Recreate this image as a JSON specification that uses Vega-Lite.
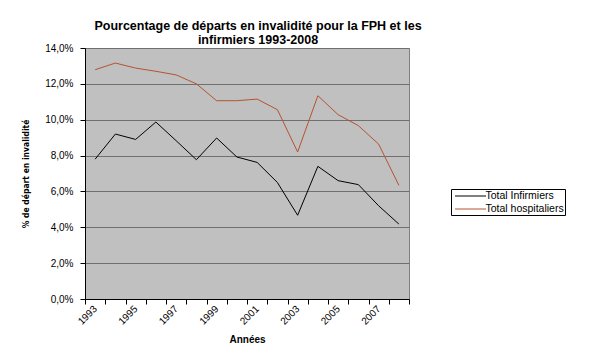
{
  "$schema": "https://vega.github.io/schema/vega-lite/v6.json",
  "autosize": "none",
  "width": 324,
  "height": 251,
  "padding": {"left": 85, "top": 48, "right": 186, "bottom": 55},
  "background": "white",
  "config": {
    "locale": {"number": {"decimal": ",", "thousands": " ", "grouping": [3], "currency": ["", " €"]}},
    "font": "Liberation Sans",
    "view": {"fill": "#c0c0c0", "stroke": "#808080", "strokeWidth": 1},
    "axis": {"labelFont": "Liberation Sans", "labelColor": "#000000", "titleColor": "#000000", "domainColor": "#000000", "tickColor": "#000000"}
  },
  "title": {
    "text": ["Pourcentage de départs en invalidité pour la FPH et les", "infirmiers 1993-2008"],
    "fontSize": 12.5,
    "font": "Liberation Sans",
    "fontWeight": "bold",
    "anchor": "middle",
    "dx": 11,
    "dy": 7,
    "offset": 4,
    "lineHeight": 14,
    "color": "#000000"
  },
  "data": {
    "values": [
      {"annee": 1993, "serie": "Total Infirmiers", "taux": 0.078},
      {"annee": 1994, "serie": "Total Infirmiers", "taux": 0.092},
      {"annee": 1995, "serie": "Total Infirmiers", "taux": 0.089},
      {"annee": 1996, "serie": "Total Infirmiers", "taux": 0.0987},
      {"annee": 1997, "serie": "Total Infirmiers", "taux": 0.0883},
      {"annee": 1998, "serie": "Total Infirmiers", "taux": 0.0777},
      {"annee": 1999, "serie": "Total Infirmiers", "taux": 0.0898},
      {"annee": 2000, "serie": "Total Infirmiers", "taux": 0.0792},
      {"annee": 2001, "serie": "Total Infirmiers", "taux": 0.0762},
      {"annee": 2002, "serie": "Total Infirmiers", "taux": 0.065},
      {"annee": 2003, "serie": "Total Infirmiers", "taux": 0.0467},
      {"annee": 2004, "serie": "Total Infirmiers", "taux": 0.074},
      {"annee": 2005, "serie": "Total Infirmiers", "taux": 0.066},
      {"annee": 2006, "serie": "Total Infirmiers", "taux": 0.0638},
      {"annee": 2007, "serie": "Total Infirmiers", "taux": 0.052},
      {"annee": 2008, "serie": "Total Infirmiers", "taux": 0.0418},
      {"annee": 1993, "serie": "Total hospitaliers", "taux": 0.1279},
      {"annee": 1994, "serie": "Total hospitaliers", "taux": 0.1316},
      {"annee": 1995, "serie": "Total hospitaliers", "taux": 0.1288},
      {"annee": 1996, "serie": "Total hospitaliers", "taux": 0.127},
      {"annee": 1997, "serie": "Total hospitaliers", "taux": 0.125},
      {"annee": 1998, "serie": "Total hospitaliers", "taux": 0.12},
      {"annee": 1999, "serie": "Total hospitaliers", "taux": 0.1106},
      {"annee": 2000, "serie": "Total hospitaliers", "taux": 0.1106},
      {"annee": 2001, "serie": "Total hospitaliers", "taux": 0.1115},
      {"annee": 2002, "serie": "Total hospitaliers", "taux": 0.1056},
      {"annee": 2003, "serie": "Total hospitaliers", "taux": 0.082},
      {"annee": 2004, "serie": "Total hospitaliers", "taux": 0.1134},
      {"annee": 2005, "serie": "Total hospitaliers", "taux": 0.1028},
      {"annee": 2006, "serie": "Total hospitaliers", "taux": 0.0967},
      {"annee": 2007, "serie": "Total hospitaliers", "taux": 0.0864},
      {"annee": 2008, "serie": "Total hospitaliers", "taux": 0.0634}
    ]
  },
  "mark": {"type": "line", "strokeWidth": 1, "clip": false},
  "encoding": {
    "x": {
      "field": "annee",
      "type": "quantitative",
      "scale": {"domain": [1992.5, 2008.5], "nice": false, "zero": false},
      "axis": {
        "title": "Années",
        "titleFont": "Liberation Sans",
        "titleFontSize": 10,
        "titleFontWeight": "bold",
        "titlePadding": 8,
        "values": [1992.5, 1993.5, 1994.5, 1995.5, 1996.5, 1997.5, 1998.5, 1999.5, 2000.5, 2001.5, 2002.5, 2003.5, 2004.5, 2005.5, 2006.5, 2007.5, 2008.5],
        "labelExpr": "(datum.value + 0.5) % 2 == 1 && datum.value < 2008 ? '' + (datum.value + 0.5) : ''",
        "labelOffset": 10,
        "labelAngle": -45,
        "labelAlign": "right",
        "labelBaseline": "middle",
        "labelFontSize": 10,
        "labelPadding": 3,
        "labelOverlap": false,
        "labelBound": false,
        "labelFlush": false,
        "tickSize": 5,
        "grid": false
      }
    },
    "y": {
      "field": "taux",
      "type": "quantitative",
      "scale": {"domain": [0, 0.14], "nice": false},
      "axis": {
        "title": "% de départ en invalidité",
        "titleFont": "DejaVu Sans Condensed, Liberation Sans",
        "titleFontSize": 8.5,
        "titleFontWeight": "bold",
        "titlePadding": 14,
        "values": [0, 0.02, 0.04, 0.06, 0.08, 0.1, 0.12, 0.14],
        "format": ".1%",
        "labelFontSize": 10,
        "labelPadding": 7,
        "tickSize": 5,
        "grid": true,
        "gridColor": "#707070",
        "gridWidth": 1,
        "gridOpacity": 1
      }
    },
    "color": {
      "field": "serie",
      "type": "nominal",
      "scale": {"domain": ["Total Infirmiers", "Total hospitaliers"], "range": ["#000000", "#b5532f"]},
      "legend": {
        "title": null,
        "orient": "none",
        "legendX": 366,
        "legendY": 141,
        "strokeColor": "#000000",
        "fillColor": "#ffffff",
        "padding": 0.5,
        "rowPadding": 1,
        "symbolType": "M-0.5,0H4.67",
        "symbolStrokeWidth": 1,
        "symbolSize": 144,
        "labelFontSize": 10.5,
        "labelFont": "Liberation Sans",
        "labelColor": "#000000",
        "labelOffset": 21
      }
    }
  }
}
